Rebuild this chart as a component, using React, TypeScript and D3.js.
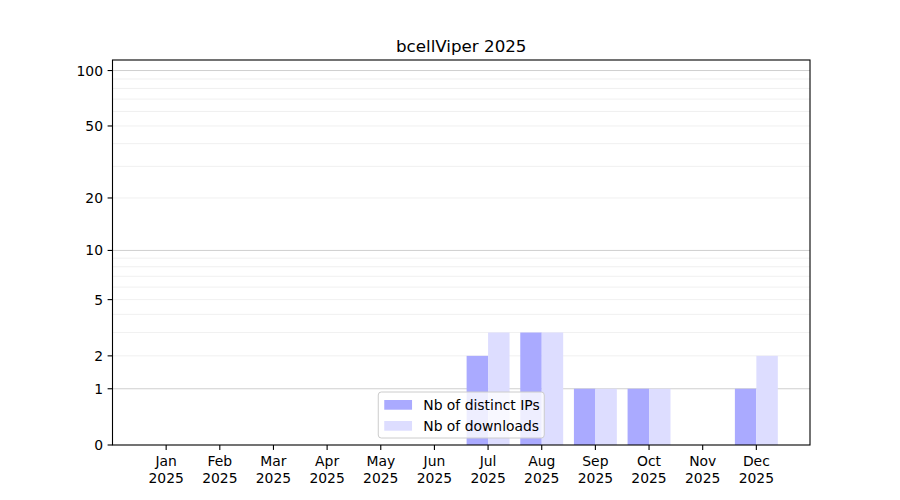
import { useEffect, useRef } from "react";
import * as d3 from "d3";

const months = ["Jan", "Feb", "Mar", "Apr", "May", "Jun", "Jul", "Aug", "Sep", "Oct", "Nov", "Dec"];
const year = "2025";
const distinctIps = [0, 0, 0, 0, 0, 0, 2, 3, 1, 1, 0, 1];
const downloads = [0, 0, 0, 0, 0, 0, 3, 3, 1, 1, 0, 2];
const yTicks = [0, 1, 2, 5, 10, 20, 50, 100];
const majorGrid = [1, 10, 100];
const minorGrid = [2, 3, 4, 5, 6, 7, 8, 9, 20, 30, 40, 50, 60, 70, 80, 90];
const title = "bcellViper 2025";

const W = 900;
const H = 500;
const FONT = "DejaVu Sans, sans-serif";

export default function App() {
  const svgRef = useRef<SVGSVGElement>(null);

  useEffect(() => {
    if (!svgRef.current) return;
    const margin = { top: 60, right: 90, bottom: 55, left: 112.5 };
    const left = margin.left;
    const right = W - margin.right;
    const top = margin.top;
    const bottom = H - margin.bottom;

    const svg = d3.select(svgRef.current);
    svg.selectAll("*").remove();

    const x = d3.scaleLinear().domain([-1, 12]).range([left, right]);
    const y = d3.scaleSymlog().constant(1).domain([0, 114]).range([bottom, top]);
    const barW = 0.4;

    // grid
    svg.append("g")
      .selectAll("line")
      .data(minorGrid)
      .join("line")
      .attr("x1", left)
      .attr("x2", right)
      .attr("y1", (d) => y(d))
      .attr("y2", (d) => y(d))
      .attr("stroke", "#ececec")
      .attr("stroke-width", 0.8);
    svg.append("g")
      .selectAll("line")
      .data(majorGrid)
      .join("line")
      .attr("x1", left)
      .attr("x2", right)
      .attr("y1", (d) => y(d))
      .attr("y2", (d) => y(d))
      .attr("stroke", "#cfcfcf")
      .attr("stroke-width", 1);

    // bars
    svg.append("g")
      .selectAll("rect")
      .data(distinctIps)
      .join("rect")
      .attr("x", (_, i) => x(i - barW))
      .attr("width", x(barW) - x(0))
      .attr("y", (d) => y(d))
      .attr("height", (d) => bottom - y(d))
      .attr("fill", "#aaaaff");
    svg.append("g")
      .selectAll("rect")
      .data(downloads)
      .join("rect")
      .attr("x", (_, i) => x(i))
      .attr("width", x(barW) - x(0))
      .attr("y", (d) => y(d))
      .attr("height", (d) => bottom - y(d))
      .attr("fill", "#ddddff");

    // frame
    svg.append("rect")
      .attr("x", left)
      .attr("y", top)
      .attr("width", right - left)
      .attr("height", bottom - top)
      .attr("fill", "none")
      .attr("stroke", "#000")
      .attr("stroke-width", 1.1);

    // y axis
    const yAx = svg.append("g").selectAll("g").data(yTicks).join("g");
    yAx.append("line")
      .attr("x1", left - 4.9)
      .attr("x2", left)
      .attr("y1", (d) => y(d))
      .attr("y2", (d) => y(d))
      .attr("stroke", "#000")
      .attr("stroke-width", 1.1);
    yAx.append("text")
      .attr("x", left - 9.5)
      .attr("y", (d) => y(d))
      .attr("dy", "0.36em")
      .attr("text-anchor", "end")
      .style("font-family", FONT)
      .style("font-size", "13.9px")
      .text((d) => String(d));

    // x axis
    const xAx = svg.append("g").selectAll("g").data(months).join("g");
    xAx.append("line")
      .attr("x1", (_, i) => x(i))
      .attr("x2", (_, i) => x(i))
      .attr("y1", bottom)
      .attr("y2", bottom + 4.9)
      .attr("stroke", "#000")
      .attr("stroke-width", 1.1);
    xAx.append("text")
      .attr("x", (_, i) => x(i))
      .attr("y", bottom + 21)
      .attr("text-anchor", "middle")
      .style("font-family", FONT)
      .style("font-size", "13.9px")
      .text((d) => d);
    xAx.append("text")
      .attr("x", (_, i) => x(i))
      .attr("y", bottom + 37.5)
      .attr("text-anchor", "middle")
      .style("font-family", FONT)
      .style("font-size", "13.9px")
      .text(year);

    // title
    svg.append("text")
      .attr("x", (left + right) / 2)
      .attr("y", top - 8)
      .attr("text-anchor", "middle")
      .style("font-family", FONT)
      .style("font-size", "16.7px")
      .text(title);

    // legend
    const legW = 166;
    const legH = 46;
    const lx = (left + right) / 2 - legW / 2;
    const ly = bottom - 7 - legH;
    const leg = svg.append("g").attr("transform", `translate(${lx},${ly})`);
    leg.append("rect")
      .attr("width", legW)
      .attr("height", legH)
      .attr("rx", 3)
      .attr("fill", "#fff")
      .attr("fill-opacity", 0.8)
      .attr("stroke", "#cccccc")
      .attr("stroke-width", 1);
    const items = [
      { label: "Nb of distinct IPs", color: "#aaaaff" },
      { label: "Nb of downloads", color: "#ddddff" },
    ];
    items.forEach((it, i) => {
      leg.append("rect")
        .attr("x", 6)
        .attr("y", 8 + i * 21)
        .attr("width", 27.8)
        .attr("height", 9.7)
        .attr("fill", it.color);
      leg.append("text")
        .attr("x", 45)
        .attr("y", 13 + i * 21)
        .attr("dy", "0.36em")
        .style("font-family", FONT)
        .style("font-size", "13.9px")
        .text(it.label);
    });
  }, []);

  return (
    <svg
      ref={svgRef}
      width={W}
      height={H}
      style={{ position: "absolute", left: 0, top: 0, background: "#fff" }}
    />
  );
}
